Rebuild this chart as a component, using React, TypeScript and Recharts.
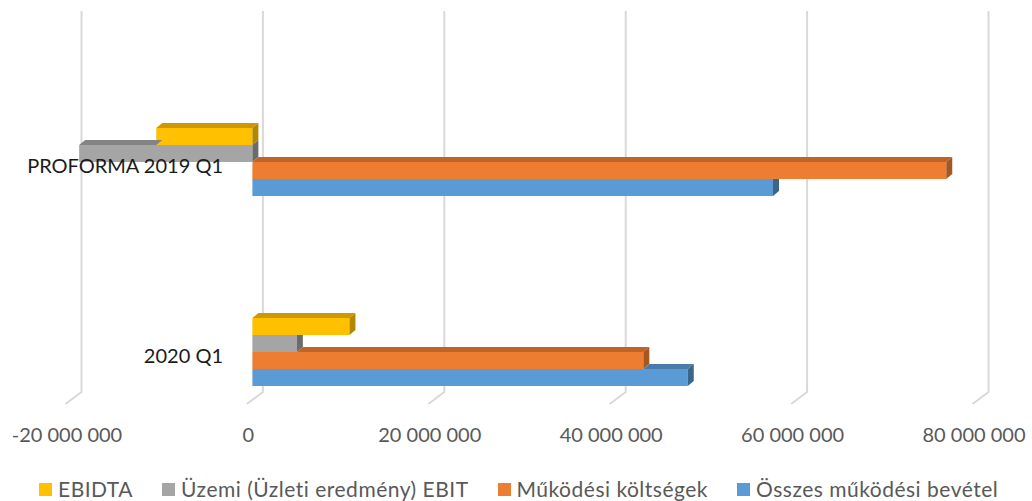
import React from 'react';
import { BarChart, Bar, XAxis, YAxis, CartesianGrid } from 'recharts';

const categories = ['PROFORMA 2019 Q1', '2020 Q1'];
const ebitda = [-10600000, 10700000];
const ebit = [-19100000, 4900000];
const koltsegek = [76500000, 43100000];
const bevetel = [57400000, 48000000];
const xTicks = [-20000000, 0, 20000000, 40000000, 60000000, 80000000];

const data = categories.map((name, i) => ({
  name,
  ebitda: ebitda[i],
  ebit: ebit[i],
  koltsegek: koltsegek[i],
  bevetel: bevetel[i],
}));

interface SeriesDef {
  key: string;
  label: string;
  front: string;
  top: string;
  side: string;
}

const series: SeriesDef[] = [
  { key: 'ebitda', label: 'EBIDTA', front: '#FFC000', top: '#CC9A00', side: '#B38700' },
  { key: 'ebit', label: 'Üzemi (Üzleti eredmény) EBIT', front: '#A5A5A5', top: '#848484', side: '#6B6B6B' },
  { key: 'koltsegek', label: 'Működési költségek', front: '#ED7D31', top: '#BE6427', side: '#A55722' },
  { key: 'bevetel', label: 'Összes működési bevétel', front: '#5B9BD5', top: '#497CAA', side: '#3B658A' },
];

const FONT = 'Lato, "Open Sans", sans-serif';
const DX = 6;
const DY = 5;

function pts(list: number[][]): string {
  return list.map((p) => `${p[0]},${p[1]}`).join(' ');
}

// 3D-looking bar: front face, visible part of the top face, end face
function makeShape(s: SeriesDef, aboveKey: string | null) {
  return (p: any) => {
    const { x, y, width, height, payload } = p;
    const v = payload[s.key];
    const w = Math.abs(width);
    if (!v || !w) return <g />;
    const x0 = Math.min(x, x + width);
    const h = height;
    const ppu = w / Math.abs(v);
    const zero = v >= 0 ? x0 : x0 + w;
    const px = (val: number) => zero + val * ppu;

    let t0 = Math.min(0, v);
    let t1 = Math.max(0, v);
    let clipSide = false;
    if (aboveKey) {
      const a = payload[aboveKey];
      const a0 = Math.min(0, a);
      const a1 = Math.max(0, a);
      if (v >= 0) t0 = Math.max(t0, a1);
      else t1 = Math.min(t1, a0);
      clipSide = a1 > Math.max(0, v);
    }
    const sx = px(Math.max(0, v));
    const side = clipSide
      ? [[sx, y], [sx + DX, y], [sx + DX, y + h - DY], [sx, y + h]]
      : [[sx, y], [sx + DX, y - DY], [sx + DX, y + h - DY], [sx, y + h]];

    return (
      <g>
        <rect x={x0} y={y} width={w} height={h} fill={s.front} />
        {t1 > t0 && (
          <polygon
            points={pts([
              [px(t0), y],
              [px(t0) + DX, y - DY],
              [px(t1) + DX, y - DY],
              [px(t1), y],
            ])}
            fill={s.top}
          />
        )}
        <polygon points={pts(side)} fill={s.side} />
      </g>
    );
  };
}

function gridLine(props: any) {
  const { x1, y1, y2 } = props;
  const bx = x1 + 10.5;
  return (
    <path
      key={`g-${x1}`}
      d={`M${bx},${y1} L${bx},${y2} L${bx - 16},${y2 + 12}`}
      stroke="#D9D9D9"
      strokeWidth={2}
      fill="none"
    />
  );
}

function XTick(props: any) {
  const { x, y, payload } = props;
  const label = payload.value.toLocaleString('en-US').replace(/,/g, ' ');
  return (
    <text x={x - 4} y={y} dy={-5} textAnchor="middle" fill="#595959" fontSize={20} fontFamily={FONT}>
      {label}
    </text>
  );
}

function YTick(props: any) {
  const { x, y, payload } = props;
  return (
    <text x={x + 152} y={y} dy={11} textAnchor="end" fill="#1a1a1a" fontSize={20} fontFamily={FONT}>
      {payload.value}
    </text>
  );
}

export default function App() {
  return (
    <div style={{ position: 'relative', width: 1032, height: 501, background: '#fff' }}>
      <style>{'body{margin:0}'}</style>
      <BarChart
        width={1032}
        height={501}
        data={data}
        layout="vertical"
        barSize={17}
        barGap={0}
        margin={{ top: 67, right: 54, bottom: 24, left: 0 }}
      >
        <CartesianGrid horizontal={false} vertical={gridLine} y={11} height={381} />
        <XAxis
          type="number"
          domain={[-20000000, 80000000]}
          ticks={xTicks}
          axisLine={false}
          tickLine={false}
          tickSize={0}
          tickMargin={0}
          height={30}
          tick={<XTick />}
          interval={0}
        />
        <YAxis
          type="category"
          dataKey="name"
          width={71}
          axisLine={false}
          tickLine={false}
          tickSize={0}
          tickMargin={0}
          tick={<YTick />}
        />
        {series.map((s, i) => (
          <Bar
            key={s.key}
            dataKey={s.key}
            fill={s.front}
            isAnimationActive={false}
            shape={makeShape(s, i > 0 ? series[i - 1].key : null)}
          />
        ))}
      </BarChart>
      <div
        style={{
          position: 'absolute',
          left: 39,
          top: 477,
          height: 24,
          display: 'flex',
          alignItems: 'center',
          gap: 29,
          fontFamily: FONT,
          fontSize: 21,
          letterSpacing: 0.5,
          lineHeight: '24px',
          color: '#595959',
          whiteSpace: 'nowrap',
        }}
      >
        {series.map((s) => (
          <div key={s.key} style={{ display: 'flex', alignItems: 'center' }}>
            <span style={{ width: 13, height: 13, background: s.front, marginRight: 6, display: 'inline-block' }} />
            <span>{s.label}</span>
          </div>
        ))}
      </div>
    </div>
  );
}
